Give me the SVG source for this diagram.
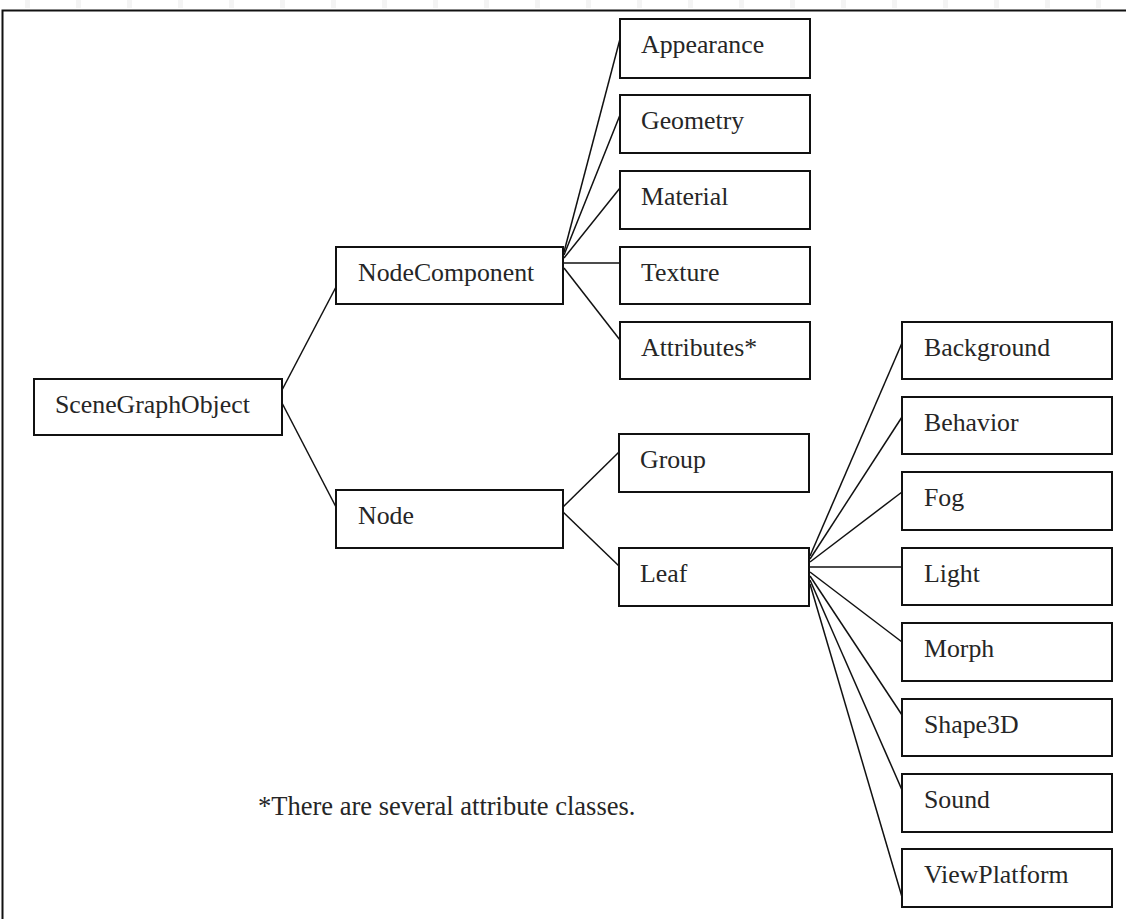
<svg xmlns="http://www.w3.org/2000/svg" width="1126" height="919" viewBox="0 0 1126 919">
<style>
.box{fill:#fff;stroke:#111;stroke-width:2}
.lbl{font-family:"Liberation Serif","Times New Roman",serif;font-size:25.8px;fill:#262626}
.con line{stroke:#111;stroke-width:1.5}
.tick{fill:#f4f4f4}
</style>
<rect width="1126" height="919" fill="#fff"/>
<g id="ticks">
<rect class="tick" x="25" y="0" width="5" height="8"/><rect class="tick" x="76" y="0" width="5" height="8"/><rect class="tick" x="127" y="0" width="5" height="8"/><rect class="tick" x="178" y="0" width="5" height="8"/><rect class="tick" x="229" y="0" width="5" height="8"/><rect class="tick" x="280" y="0" width="5" height="8"/><rect class="tick" x="331" y="0" width="5" height="8"/><rect class="tick" x="382" y="0" width="5" height="8"/><rect class="tick" x="433" y="0" width="5" height="8"/><rect class="tick" x="484" y="0" width="5" height="8"/><rect class="tick" x="535" y="0" width="5" height="8"/><rect class="tick" x="586" y="0" width="5" height="8"/><rect class="tick" x="637" y="0" width="5" height="8"/><rect class="tick" x="688" y="0" width="5" height="8"/><rect class="tick" x="739" y="0" width="5" height="8"/><rect class="tick" x="790" y="0" width="5" height="8"/><rect class="tick" x="841" y="0" width="5" height="8"/><rect class="tick" x="892" y="0" width="5" height="8"/><rect class="tick" x="943" y="0" width="5" height="8"/><rect class="tick" x="994" y="0" width="5" height="8"/><rect class="tick" x="1045" y="0" width="5" height="8"/><rect class="tick" x="1096" y="0" width="5" height="8"/>
</g>
<g id="frame" stroke="#111" stroke-width="2" fill="none">
<polyline points="2.5,919 2.5,10.5 1126,10.5"/>
</g>
<g id="connectors" class="con">
<line x1="282" y1="390" x2="336" y2="287"/>
<line x1="282" y1="403" x2="336" y2="507"/>
<line x1="564" y1="252" x2="620" y2="39"/>
<line x1="564" y1="255" x2="620" y2="115"/>
<line x1="564" y1="258" x2="620" y2="188"/>
<line x1="564" y1="263" x2="620" y2="263"/>
<line x1="564" y1="268" x2="620" y2="340"/>
<line x1="563" y1="507" x2="619" y2="452"/>
<line x1="563" y1="512" x2="619" y2="566"/>
<line x1="810" y1="556" x2="902" y2="343"/>
<line x1="810" y1="559" x2="902" y2="417"/>
<line x1="810" y1="562" x2="902" y2="492"/>
<line x1="810" y1="567" x2="902" y2="567"/>
<line x1="810" y1="572" x2="902" y2="642"/>
<line x1="810" y1="576" x2="902" y2="715"/>
<line x1="810" y1="580" x2="902" y2="790"/>
<line x1="810" y1="584" x2="902" y2="897"/>
</g>
<g id="n-scenegraphobject"><rect class="box" x="34" y="379" width="248" height="56"/><text class="lbl" x="55" y="413">SceneGraphObject</text></g>
<g id="n-nodecomponent"><rect class="box" x="336" y="247" width="227" height="57"/><text class="lbl" x="358" y="281">NodeComponent</text></g>
<g id="n-node"><rect class="box" x="336" y="490" width="227" height="58"/><text class="lbl" x="358" y="524">Node</text></g>
<g id="n-appearance"><rect class="box" x="620" y="19" width="190" height="59"/><text class="lbl" x="641" y="53">Appearance</text></g>
<g id="n-geometry"><rect class="box" x="620" y="95" width="190" height="58"/><text class="lbl" x="641" y="129">Geometry</text></g>
<g id="n-material"><rect class="box" x="620" y="171" width="190" height="58"/><text class="lbl" x="641" y="205">Material</text></g>
<g id="n-texture"><rect class="box" x="620" y="247" width="190" height="57"/><text class="lbl" x="641" y="281">Texture</text></g>
<g id="n-attributes"><rect class="box" x="620" y="322" width="190" height="57"/><text class="lbl" x="641" y="356">Attributes*</text></g>
<g id="n-group"><rect class="box" x="619" y="434" width="190" height="58"/><text class="lbl" x="640" y="468">Group</text></g>
<g id="n-leaf"><rect class="box" x="619" y="548" width="190" height="58"/><text class="lbl" x="640" y="582">Leaf</text></g>
<g id="n-background"><rect class="box" x="902" y="322" width="210" height="57"/><text class="lbl" x="924" y="356">Background</text></g>
<g id="n-behavior"><rect class="box" x="902" y="397" width="210" height="57"/><text class="lbl" x="924" y="431">Behavior</text></g>
<g id="n-fog"><rect class="box" x="902" y="472" width="210" height="58"/><text class="lbl" x="924" y="506">Fog</text></g>
<g id="n-light"><rect class="box" x="902" y="548" width="210" height="57"/><text class="lbl" x="924" y="582">Light</text></g>
<g id="n-morph"><rect class="box" x="902" y="623" width="210" height="58"/><text class="lbl" x="924" y="657">Morph</text></g>
<g id="n-shape3d"><rect class="box" x="902" y="699" width="210" height="57"/><text class="lbl" x="924" y="733">Shape3D</text></g>
<g id="n-sound"><rect class="box" x="902" y="774" width="210" height="58"/><text class="lbl" x="924" y="808">Sound</text></g>
<g id="n-viewplatform"><rect class="box" x="902" y="849" width="210" height="58"/><text class="lbl" x="924" y="883">ViewPlatform</text></g>
<text id="footnote" class="lbl" x="258" y="815" style="font-size:26.5px">*There are several attribute classes.</text>
</svg>
